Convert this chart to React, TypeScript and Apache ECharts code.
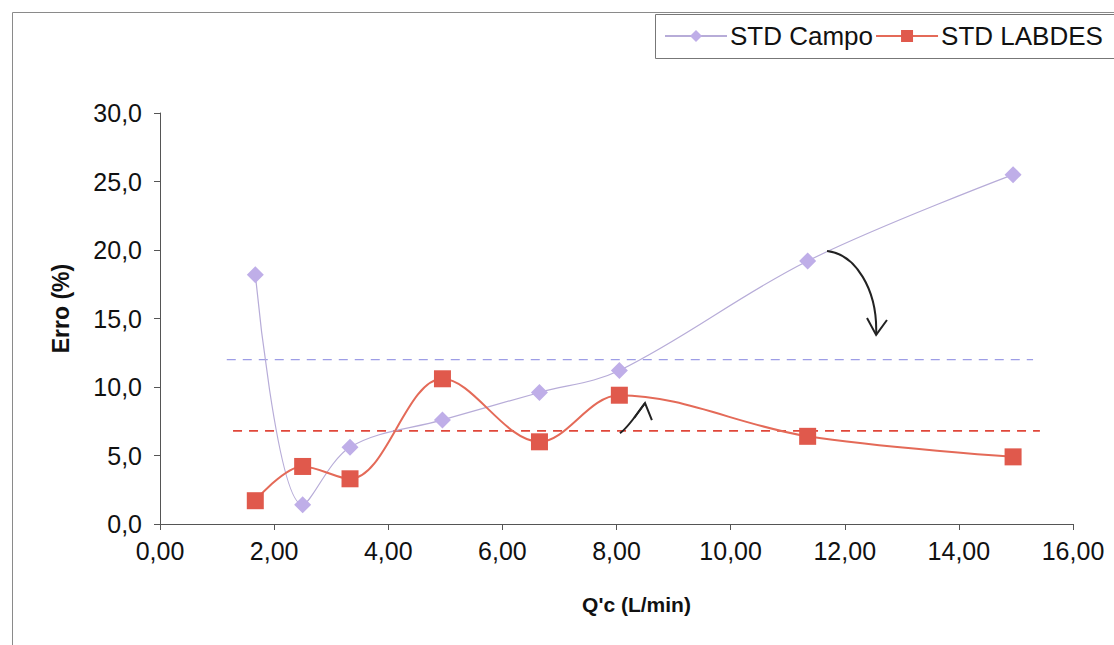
import React, { useEffect, useRef } from "react";
import * as echarts from "echarts";

const xCampo = [1.67, 2.5, 3.33, 4.95, 6.65, 8.05, 11.35, 14.95];
const yCampo = [18.2, 1.4, 5.6, 7.6, 9.6, 11.2, 19.2, 25.5];
const xLabdes = [1.67, 2.5, 3.33, 4.95, 6.65, 8.05, 11.35, 14.95];
const yLabdes = [1.7, 4.2, 3.3, 10.6, 6.0, 9.4, 6.4, 4.9];
const avgCampoX = [1.17, 15.3];
const avgCampoY = 12.0;
const avgLabdesX = [1.28, 15.42];
const avgLabdesY = 6.8;

// annotation arrows in data units: start, cp1, cp2, end, headLeft, headRight
const arrow1 = [[11.69, 19.93], [12.18, 19.71], [12.58, 17.15], [12.55, 13.8], [12.39, 15.04], [12.74, 14.89]];
const arrow2 = [[8.06, 6.64], [8.2, 7.0], [8.34, 7.96], [8.5, 8.83], [8.31, 7.74], [8.62, 7.59]];

const FONT = "Liberation Sans, Arial, sans-serif";

export default function App() {
  const ref = useRef<HTMLDivElement>(null);
  useEffect(() => {
    const chart = echarts.init(ref.current!, null, { renderer: "svg" });
    chart.setOption({
      animation: false,
      backgroundColor: "#ffffff",
      grid: { left: 160, right: 41, top: 113, bottom: 121, containLabel: false },
      legend: {
        data: ["STD Campo", "STD LABDES"],
        orient: "horizontal",
        left: 655,
        top: 14,
        width: 520,
        padding: [9, 0, 9, 9],
        itemGap: 2,
        itemWidth: 62,
        itemHeight: 15,
        textStyle: { fontFamily: FONT, fontSize: 26, color: "#111", padding: [0, 0, 0, -2] },
      },
      xAxis: {
        type: "value",
        min: 0,
        max: 16,
        interval: 2,
        name: "Q'c (L/min)",
        nameLocation: "middle",
        nameGap: 70,
        nameTextStyle: { fontFamily: FONT, fontSize: 21, fontWeight: "bold", color: "#111", padding: [0, 0, 0, 40] },
        axisLine: { show: true, lineStyle: { color: "#555", width: 1 } },
        axisTick: { show: true, length: 6, inside: false, lineStyle: { color: "#555" } },
        axisLabel: {
          fontFamily: FONT,
          fontSize: 25,
          color: "#111",
          margin: 14,
          formatter: (v: number) => v.toFixed(2).replace(".", ","),
        },
        splitLine: { show: false },
      },
      yAxis: {
        type: "value",
        min: 0,
        max: 30,
        interval: 5,
        name: "Erro (%)",
        nameLocation: "middle",
        nameGap: 88,
        nameRotate: 90,
        nameTextStyle: { fontFamily: FONT, fontSize: 23, fontWeight: "bold", color: "#111", padding: [0, 0, 0, 20] },
        axisLine: { show: true, lineStyle: { color: "#555", width: 1 } },
        axisTick: { show: true, length: 6, inside: false, lineStyle: { color: "#555" } },
        axisLabel: {
          fontFamily: FONT,
          fontSize: 25,
          color: "#111",
          margin: 18,
          formatter: (v: number) => v.toFixed(1).replace(".", ","),
        },
        splitLine: { show: false },
      },
      series: [
        {
          name: "avgCampo",
          type: "line",
          data: avgCampoX.map((x) => [x, avgCampoY]),
          symbol: "none",
          silent: true,
          lineStyle: { color: "#9d9de6", width: 1.2, type: [9, 7] },
          z: 1,
        },
        {
          name: "avgLabdes",
          type: "line",
          data: avgLabdesX.map((x) => [x, avgLabdesY]),
          symbol: "none",
          silent: true,
          lineStyle: { color: "#e0473a", width: 1.6, type: [9, 7] },
          z: 1,
        },
        {
          name: "STD Campo",
          type: "line",
          data: xCampo.map((x, i) => [x, yCampo[i]]),
          smooth: 0.35,
          symbol: "diamond",
          symbolSize: 17,
          itemStyle: { color: "#bfaee8" },
          lineStyle: { color: "#b7acd8", width: 1.2 },
          z: 3,
        },
        {
          name: "STD LABDES",
          type: "line",
          data: xLabdes.map((x, i) => [x, yLabdes[i]]),
          smooth: 0.35,
          symbol: "rect",
          symbolSize: 17,
          itemStyle: { color: "#e0594c" },
          lineStyle: { color: "#e46a58", width: 2 },
          z: 4,
        },
      ],
    });

    const px = (p: number[]) => chart.convertToPixel({ gridIndex: 0 }, p) as number[];
    const makeArrow = (a: number[][]) => {
      const [s, c1, c2, e, hl, hr] = a.map(px);
      return [
        {
          type: "bezierCurve",
          shape: { x1: s[0], y1: s[1], cpx1: c1[0], cpy1: c1[1], cpx2: c2[0], cpy2: c2[1], x2: e[0], y2: e[1] },
          style: { stroke: "#222", lineWidth: 2, fill: "none" },
          z: 10,
        },
        {
          type: "polyline",
          shape: { points: [hl, e, hr] },
          style: { stroke: "#222", lineWidth: 2, fill: "none" },
          z: 10,
        },
      ];
    };
    chart.setOption({
      graphic: [
        {
          type: "rect",
          shape: { x: 12.5, y: 12.5, width: 1130, height: 660 },
          style: { stroke: "#8a8a8a", lineWidth: 1, fill: "none" },
          silent: true,
          z: 0,
        },
        {
          type: "rect",
          shape: { x: 655.5, y: 14.5, width: 500, height: 44 },
          style: { stroke: "#777", lineWidth: 1, fill: "none" },
          silent: true,
          z: 0,
        },
        ...makeArrow(arrow1),
        ...makeArrow(arrow2),
      ],
    });
    return () => chart.dispose();
  }, []);
  return (
    <div
      ref={ref}
      style={{ position: "fixed", left: 0, top: 0, width: 1114, height: 645 }}
    />
  );
}
